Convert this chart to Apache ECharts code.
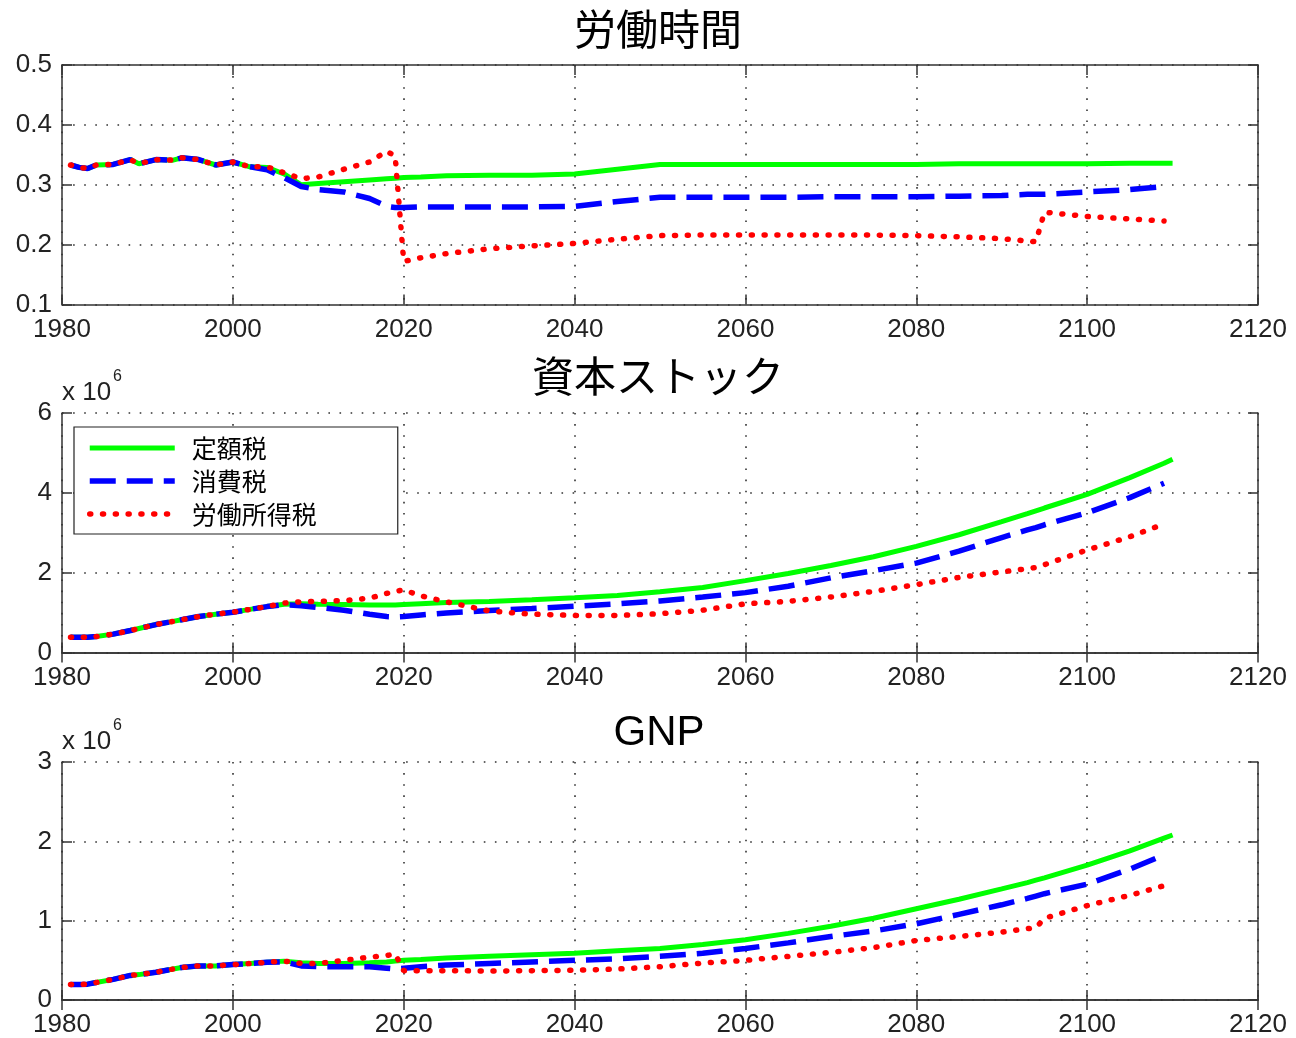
<!DOCTYPE html>
<html>
<head>
<meta charset="utf-8">
<script src="https://cdn.jsdelivr.net/npm/echarts@6/dist/echarts.min.js"></script>
<style>
html,body{margin:0;padding:0;background:#fff;}
#main{width:1296px;height:1038px;}
</style>
</head>
<body>
<div id="main"></div>
<script>
// ---------- DATA ----------
const seriesNames = ['定額税', '消費税', '労働所得税'];
const panelTitles = ['労働時間', '資本ストック', 'GNP'];

const yearsEarly = [1981,1982,1983,1984,1986,1988,1989,1991,1993,1994,1996,1998,2000,2002];
const yearsLate  = [2004,2006,2008,2010,2013,2016,2018,2019,2020,2022,2025,2030,2035,2040,2045,2050,2055,2060,2065,2070,2075,2080,2085,2090,2093,2094,2095,2100,2105,2109,2110];

// 労働時間 (labor hours)
const laborEarly = [0.333,0.329,0.327,0.333,0.334,0.342,0.335,0.342,0.341,0.345,0.342,0.333,0.338,0.330];
const laborLump  = [0.329,0.318,0.300,0.302,0.305,0.308,0.310,0.311,0.312,0.313,0.315,0.316,0.316,0.318,0.326,0.334,0.334,0.334,0.334,0.334,0.334,0.334,0.335,0.335,0.335,0.335,0.335,0.335,0.336,0.336,0.336];
const laborCons  = [0.325,0.312,0.297,0.292,0.288,0.277,0.264,0.262,0.262,0.263,0.263,0.263,0.263,0.264,0.272,0.279,0.279,0.279,0.279,0.280,0.280,0.280,0.281,0.282,0.284,0.284,0.284,0.288,0.292,0.297,null];
const laborInc   = [0.330,0.320,0.310,0.313,0.326,0.338,0.356,0.348,0.172,0.178,0.185,0.193,0.198,0.202,0.209,0.215,0.216,0.216,0.216,0.216,0.216,0.215,0.213,0.210,0.206,0.205,0.254,0.247,0.243,0.2395,null];

// 資本ストック (capital stock, x10^6)
const capEarly = [0.38,0.38,0.38,0.40,0.46,0.55,0.60,0.70,0.78,0.82,0.90,0.96,1.01,1.08];
const capLump  = [1.15,1.21,1.22,1.21,1.20,1.19,1.19,1.19,1.20,1.22,1.25,1.28,1.32,1.37,1.43,1.52,1.63,1.80,1.98,2.18,2.40,2.66,2.95,3.28,3.48,3.55,3.62,3.96,4.38,4.74,4.84];
const capCons  = [1.15,1.20,1.17,1.13,1.06,0.96,0.90,0.89,0.90,0.94,0.99,1.05,1.10,1.16,1.22,1.29,1.39,1.50,1.66,1.87,2.05,2.24,2.54,2.88,3.07,3.13,3.20,3.50,3.88,4.24,null];
const capInc   = [1.15,1.24,1.27,1.28,1.30,1.36,1.48,1.53,1.57,1.42,1.27,1.04,0.96,0.93,0.93,0.97,1.06,1.22,1.28,1.39,1.53,1.70,1.88,2.02,2.10,2.13,2.20,2.57,2.90,3.22,null];

// GNP (x10^6)
const gnpEarly = [0.196,0.196,0.20,0.22,0.26,0.31,0.32,0.35,0.39,0.41,0.43,0.43,0.446,0.46];
const gnpLump  = [0.475,0.49,0.47,0.46,0.46,0.47,0.48,0.49,0.50,0.51,0.53,0.55,0.57,0.59,0.62,0.65,0.70,0.76,0.84,0.93,1.03,1.15,1.27,1.40,1.48,1.51,1.54,1.70,1.88,2.04,2.08];
const gnpCons  = [0.475,0.48,0.43,0.42,0.42,0.42,0.40,0.39,0.40,0.42,0.44,0.46,0.48,0.50,0.52,0.55,0.59,0.65,0.72,0.80,0.87,0.96,1.08,1.20,1.28,1.31,1.34,1.46,1.65,1.83,null];
const gnpInc   = [0.475,0.49,0.46,0.46,0.50,0.54,0.56,0.58,0.37,0.37,0.37,0.365,0.37,0.375,0.39,0.42,0.465,0.50,0.55,0.60,0.66,0.75,0.80,0.855,0.90,0.91,1.03,1.19,1.32,1.44,null];

const xMin = 1980, xMax = 2120, xStep = 20;
const yRanges = [[0.1, 0.5, 0.1], [0, 6, 2], [0, 3, 1]];

// ---------- BUILD ----------
const years = yearsEarly.concat(yearsLate);
const panels = [
  [laborEarly.concat(laborLump), laborEarly.concat(laborCons), laborEarly.concat(laborInc)],
  [capEarly.concat(capLump), capEarly.concat(capCons), capEarly.concat(capInc)],
  [gnpEarly.concat(gnpLump), gnpEarly.concat(gnpCons), gnpEarly.concat(gnpInc)]
];
const pairs = vals => years.map((y, i) => [y, vals[i]]);

const gridTops = [65, 413, 762];
const gridH = 239.5;
const tickFont = {fontFamily: 'Liberation Sans, Arial, sans-serif', fontSize: 26, color: '#222'};
const axisLine = {show: true, lineStyle: {color: '#333', width: 1.5}};
const gridLine = {show: true, lineStyle: {color: '#333', width: 1.6, type: [1.6, 9.5]}};
const tick = {show: true, inside: true, length: 10, lineStyle: {color: '#333', width: 1.5}};

const lineStyles = [
  {color: '#00ff00', width: 5, type: 'solid'},
  {color: '#0000ff', width: 5.5, type: [26, 11]},
  {color: '#ff0000', width: 5.5, type: [1, 11.8], cap: 'round'}
];

const grid = [], xAxis = [], yAxis = [], series = [];
gridTops.forEach((t, p) => {
  grid.push({left: 62, right: 38, top: t, height: gridH});
  xAxis.push({type: 'value', gridIndex: p, min: xMin, max: xMax, interval: xStep, position: 'bottom',
    axisLine: axisLine, axisTick: tick,
    axisLabel: Object.assign({margin: 12, formatter: v => String(v)}, tickFont), splitLine: gridLine});
  xAxis.push({type: 'value', gridIndex: p, min: xMin, max: xMax, interval: xStep, position: 'top',
    axisLine: axisLine, axisTick: tick, axisLabel: {show: false}, splitLine: {show: false}});
  const r = yRanges[p];
  yAxis.push({type: 'value', gridIndex: p, min: r[0], max: r[1], interval: r[2], position: 'left',
    axisLine: axisLine, axisTick: tick,
    axisLabel: Object.assign({margin: 10, formatter: v => String(Math.round(v * 10) / 10)}, tickFont), splitLine: gridLine});
  yAxis.push({type: 'value', gridIndex: p, min: r[0], max: r[1], interval: r[2], position: 'right',
    axisLine: axisLine, axisTick: tick, axisLabel: {show: false}, splitLine: {show: false}});
  panels[p].forEach((vals, s) => {
    series.push({
      name: seriesNames[s], type: 'line', xAxisIndex: p * 2, yAxisIndex: p * 2,
      data: pairs(vals), symbol: 'none', smooth: false, connectNulls: false,
      lineStyle: lineStyles[s], itemStyle: {color: lineStyles[s].color}, z: 2 + s
    });
  });
});

const titleStyle = {fontFamily: 'Noto Sans CJK JP, sans-serif', fontSize: 42, fontWeight: 'normal', color: '#000'};
const title = [
  {text: panelTitles[0], left: 653, top: 3, textAlign: 'center', textStyle: titleStyle},
  {text: panelTitles[1], left: 653, top: 350, textAlign: 'center', textStyle: titleStyle},
  {text: panelTitles[2], left: 654, top: 707, textAlign: 'center',
    textStyle: Object.assign({}, titleStyle, {fontFamily: 'Liberation Sans, Arial, sans-serif', fontSize: 42})}
];

const expoText = (top) => ([
  {type: 'text', left: 62, top: top, style: {text: 'x 10', font: '26px "Liberation Sans", Arial, sans-serif', fill: '#222'}},
  {type: 'text', left: 113, top: top - 11, style: {text: '6', font: '16px "Liberation Sans", Arial, sans-serif', fill: '#222'}}
]);

const option = {
  animation: false,
  backgroundColor: '#fff',
  title: title,
  grid: grid, xAxis: xAxis, yAxis: yAxis, series: series,
  legend: {
    data: seriesNames.map((n, i) => ({name: n, lineStyle: Object.assign({}, lineStyles[i])})),
    orient: 'vertical', left: 74, top: 427,
    itemWidth: 85, itemHeight: 20, itemGap: 8,
    padding: [8.5, 81, 7.5, 13],
    itemStyle: {opacity: 0},
    backgroundColor: '#fff', borderColor: '#222', borderWidth: 1.2, borderRadius: 0,
    textStyle: {fontFamily: 'Noto Sans CJK JP, sans-serif', fontSize: 25, color: '#000', padding: [0, 0, 0, 12]},
    selectedMode: false
  },
  graphic: expoText(380).concat(expoText(729))
};

const chart = echarts.init(document.getElementById('main'));
chart.setOption(option);
</script>
</body>
</html>
